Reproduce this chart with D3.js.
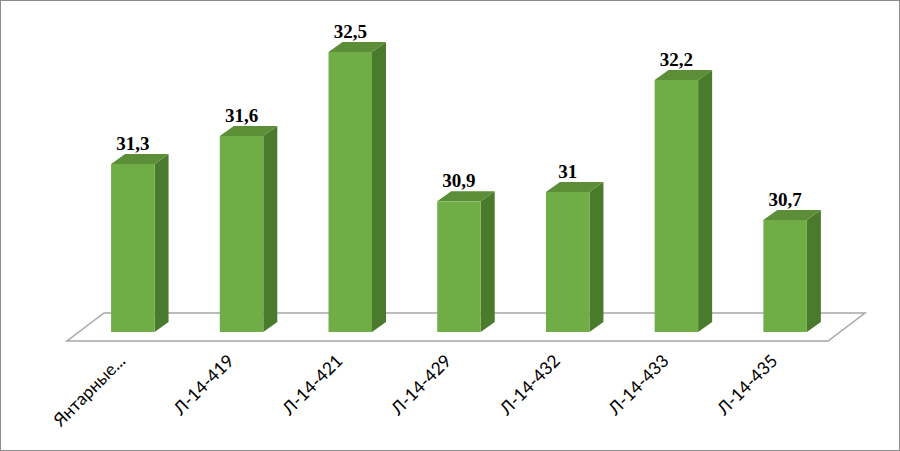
<!DOCTYPE html>
<html><head><meta charset="utf-8">
<script src="https://cdn.jsdelivr.net/npm/d3@7"></script>
<style>html,body{margin:0;padding:0;background:#fff;}svg{display:block;}</style>
</head><body>
<script>
const categories = ["Янтарные...", "Л-14-419", "Л-14-421", "Л-14-429", "Л-14-432", "Л-14-433", "Л-14-435"];
const values = [31.3, 31.6, 32.5, 30.9, 31, 32.2, 30.7];
const valueLabels = ["31,3", "31,6", "32,5", "30,9", "31", "32,2", "30,7"];
const axisDomain = [29.5, 33];

const W = 900, H = 451;
const svg = d3.select("body").append("svg").attr("width", W).attr("height", H);
svg.append("rect").attr("x", 0.5).attr("y", 0.5).attr("width", W - 1).attr("height", H - 1)
  .attr("fill", "#fff").attr("stroke", "#8c8c8c").attr("stroke-width", 1);

// floor geometry
const floorFrontY = 341, floorDepth = [37, -28];
const x = d3.scaleBand().domain(categories).range([67, 828]).paddingInner(0.6).paddingOuter(0.3);
const y = d3.scaleLinear().domain(axisDomain).range([332, 332 - 3.5 * 93.33]);

// floor
const fl = [[67, floorFrontY], [828, floorFrontY], [828 + floorDepth[0], floorFrontY + floorDepth[1]], [67 + floorDepth[0], floorFrontY + floorDepth[1]]];
svg.append("polygon").attr("points", fl.map(p => p.join(",")).join(" "))
  .attr("fill", "none").attr("stroke", "#a6a6a6").attr("stroke-width", 1.5);

// bars
const f0 = 0.31; // depth fraction of bar front
const bd = [14, -10]; // bar depth vector
const g = svg.append("g");
categories.forEach((c, i) => {
  const x0 = x(c) + floorDepth[0] * f0;
  const w = x.bandwidth();
  const yb = y(axisDomain[0]);
  const yt = y(values[i]);
  g.append("polygon").attr("points", [[x0 + w, yb], [x0 + w + bd[0], yb + bd[1]], [x0 + w + bd[0], yt + bd[1]], [x0 + w, yt]].map(p => p.join(",")).join(" "))
    .attr("fill", "#4a7a2b");
  g.append("polygon").attr("points", [[x0, yt], [x0 + w, yt], [x0 + w + bd[0], yt + bd[1]], [x0 + bd[0], yt + bd[1]]].map(p => p.join(",")).join(" "))
    .attr("fill", "#5b8e37");
  g.append("rect").attr("x", x0).attr("y", yt).attr("width", w).attr("height", yb - yt).attr("fill", "#70ad47");
  svg.append("text").attr("x", x0 + w / 2).attr("y", yt + bd[1] - 4)
    .attr("text-anchor", "middle").attr("font-family", "Liberation Serif, Times New Roman, serif")
    .attr("font-weight", "bold").attr("font-size", "19px").attr("fill", "#000").text(valueLabels[i]);
  const ax = x(c) + w / 2 + 5, ay = 362;
  svg.append("text").attr("transform", `translate(${ax},${ay}) rotate(-45)`)
    .attr("text-anchor", "end").attr("font-family", "Lato, Open Sans, sans-serif")
    .attr("font-size", "17.5px").attr("fill", "#000").text(c);
});
</script>
</body></html>
